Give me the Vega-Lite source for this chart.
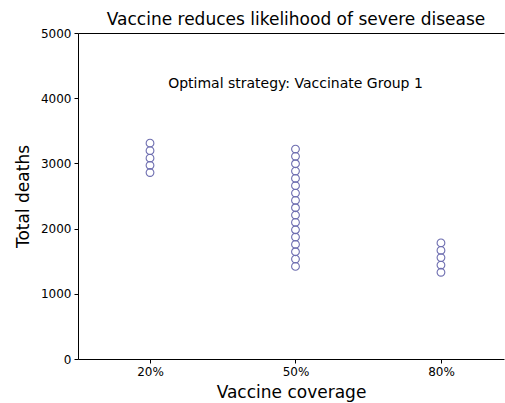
{
  "$schema": "https://vega.github.io/schema/vega-lite/v6.json",
  "width": 426,
  "height": 326,
  "autosize": "none",
  "padding": {"left": 78, "top": 33, "right": 1, "bottom": 44},
  "background": "white",
  "config": {
    "font": "DejaVu Sans",
    "view": {"stroke": null},
    "axis": {"grid": false, "domainColor": "black", "tickColor": "black", "labelColor": "black", "titleColor": "black", "labelFont": "DejaVu Sans", "titleFont": "DejaVu Sans", "titleFontWeight": "normal", "domainWidth": 1, "tickWidth": 1}
  },
  "title": {"text": "Vaccine reduces likelihood of severe disease", "fontSize": 17, "fontWeight": "normal", "font": "DejaVu Sans", "color": "black", "anchor": "middle", "offset": -2, "dx": 5},
  "data": {"values": [
    {"coverage": 0.2, "deaths": 3310},
    {"coverage": 0.2, "deaths": 3195},
    {"coverage": 0.2, "deaths": 3080},
    {"coverage": 0.2, "deaths": 2970},
    {"coverage": 0.2, "deaths": 2860},
    {"coverage": 0.5, "deaths": 3220},
    {"coverage": 0.5, "deaths": 3108},
    {"coverage": 0.5, "deaths": 2995},
    {"coverage": 0.5, "deaths": 2882},
    {"coverage": 0.5, "deaths": 2770},
    {"coverage": 0.5, "deaths": 2658},
    {"coverage": 0.5, "deaths": 2545},
    {"coverage": 0.5, "deaths": 2432},
    {"coverage": 0.5, "deaths": 2320},
    {"coverage": 0.5, "deaths": 2208},
    {"coverage": 0.5, "deaths": 2095},
    {"coverage": 0.5, "deaths": 1982},
    {"coverage": 0.5, "deaths": 1870},
    {"coverage": 0.5, "deaths": 1758},
    {"coverage": 0.5, "deaths": 1645},
    {"coverage": 0.5, "deaths": 1532},
    {"coverage": 0.5, "deaths": 1420},
    {"coverage": 0.8, "deaths": 1780},
    {"coverage": 0.8, "deaths": 1665},
    {"coverage": 0.8, "deaths": 1555},
    {"coverage": 0.8, "deaths": 1440},
    {"coverage": 0.8, "deaths": 1330}
  ]},
  "layer": [
    {
      "mark": {"type": "point", "shape": "circle", "filled": false, "size": 60, "stroke": "#6e6eb0", "strokeWidth": 1.1, "opacity": 1},
      "encoding": {
        "x": {"field": "coverage", "type": "quantitative", "scale": {"domain": [0.0515, 0.93], "nice": false, "zero": false},
          "axis": {"values": [0.2, 0.5, 0.8], "format": ".0%", "title": "Vaccine coverage", "titleFontSize": 17, "labelFontSize": 12, "tickSize": 4, "labelPadding": 3, "titlePadding": 7}},
        "y": {"field": "deaths", "type": "quantitative", "scale": {"domain": [0, 5000], "nice": false},
          "axis": {"values": [0, 1000, 2000, 3000, 4000, 5000], "format": "d", "title": "Total deaths", "titleFontSize": 17, "labelFontSize": 12, "tickSize": 4, "labelPadding": 3, "titlePadding": 8}}
      }
    },
    {
      "data": {"values": [{"x": 0.5, "y": 4220, "label": "Optimal strategy: Vaccinate Group 1"}]},
      "mark": {"type": "text", "fontSize": 14, "font": "DejaVu Sans", "color": "black", "align": "center", "baseline": "middle"},
      "encoding": {
        "x": {"field": "x", "type": "quantitative", "axis": {"orient": "top", "labels": false, "ticks": false, "title": null}},
        "y": {"field": "y", "type": "quantitative"},
        "text": {"field": "label"}
      }
    }
  ],
  "resolve": {"axis": {"x": "independent"}}
}
